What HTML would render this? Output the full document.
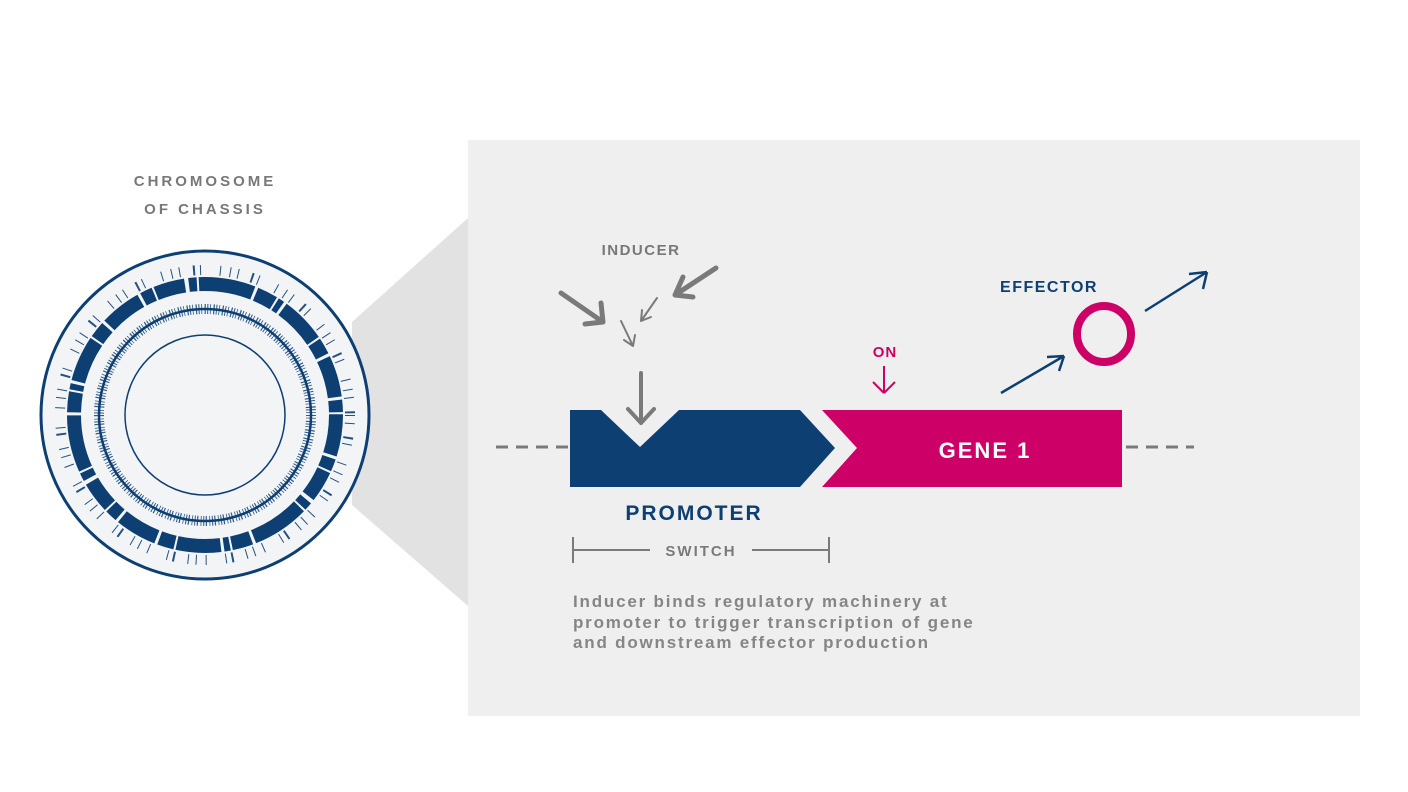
<!DOCTYPE html>
<html><head><meta charset="utf-8"><style>
html,body{margin:0;padding:0;background:#fff;}
body{width:1408px;height:792px;overflow:hidden;position:relative;font-family:"Liberation Sans",sans-serif;}
</style></head><body>
<svg width="1408" height="792" viewBox="0 0 1408 792" xmlns="http://www.w3.org/2000/svg" style="position:absolute;left:0;top:0">
<rect x="468" y="140" width="892" height="576" fill="#efefef"/>
<polygon points="352,322 468,218 468,606 352,505" fill="#e2e2e2"/>
<!-- chromosome -->
<circle cx="205" cy="415" r="164" fill="#f3f4f6" stroke="#0d3f73" stroke-width="3"/>
<circle cx="205" cy="415" r="131" fill="none" stroke="#0d3f73" stroke-width="14" stroke-dasharray="40 3 12 2 30 4 8 2 55 3 20 2 6 3 44 2 16 3" />
<circle cx="205" cy="415" r="145" fill="none" stroke="#0d3f73" stroke-width="10" stroke-dasharray="1 7 1 13 2 5 1 19 1 9" opacity="0.9"/>
<circle cx="205" cy="415" r="106" fill="none" stroke="#0d3f73" stroke-width="2.5"/>
<circle cx="205" cy="415" r="106" fill="none" stroke="#0d3f73" stroke-width="10" stroke-dasharray="1 1.8 0.8 2.5 1.2 1.5" opacity="0.85"/>
<circle cx="205" cy="415" r="80" fill="#f3f4f6" stroke="#0d3f73" stroke-width="1.5"/>
<text x="205" y="186" text-anchor="middle" font-size="15" font-weight="bold" fill="#787878" letter-spacing="3">CHROMOSOME</text>
<text x="205" y="214" text-anchor="middle" font-size="15" font-weight="bold" fill="#787878" letter-spacing="3">OF CHASSIS</text>
<!-- dashes -->
<line x1="496" y1="447" x2="570" y2="447" stroke="#7a7a7a" stroke-width="3" stroke-dasharray="12 8"/>
<line x1="1126" y1="447" x2="1194" y2="447" stroke="#7a7a7a" stroke-width="3" stroke-dasharray="12 8"/>
<!-- promoter -->
<polygon points="570,410 601,410 640,447 679,410 800,410 835,448 800,487 570,487" fill="#0d3f73"/>
<polygon points="822,410 1122,410 1122,487 822,487 857,448" fill="#cc0066"/>
<text x="985" y="458" text-anchor="middle" font-size="22" font-weight="bold" fill="#fff" letter-spacing="2">GENE 1</text>
<text x="694" y="520" text-anchor="middle" font-size="21" font-weight="bold" fill="#0d3f73" letter-spacing="2">PROMOTER</text>
<!-- switch bracket -->
<line x1="573" y1="537" x2="573" y2="563" stroke="#7a7a7a" stroke-width="2"/>
<line x1="829" y1="537" x2="829" y2="563" stroke="#7a7a7a" stroke-width="2"/>
<line x1="573" y1="550" x2="650" y2="550" stroke="#7a7a7a" stroke-width="2"/>
<line x1="752" y1="550" x2="829" y2="550" stroke="#7a7a7a" stroke-width="2"/>
<text x="701" y="556" text-anchor="middle" font-size="15" font-weight="bold" fill="#7a7a7a" letter-spacing="2">SWITCH</text>
<g font-size="17" font-weight="bold" fill="#858585" letter-spacing="1.8">
<text x="573" y="607">Inducer binds regulatory machinery at</text>
<text x="573" y="628">promoter to trigger transcription of gene</text>
<text x="573" y="648">and downstream effector production</text>
</g>
<!-- inducer -->
<text x="641" y="255" text-anchor="middle" font-size="15" font-weight="bold" fill="#787878" letter-spacing="1.5">INDUCER</text>
<g stroke="#7a7a7a" fill="none" stroke-linecap="round">
<path d="M561,293 L603,322 M603,322 L601,303 M603,322 L585,324" stroke-width="5"/>
<path d="M716,268 L675,295 M675,295 L683,277 M675,295 L693,297" stroke-width="5"/>
<path d="M657,298 L641,321 M641,321 L642,310 M641,321 L651,317" stroke-width="2"/>
<path d="M621,321 L633,346 M633,346 L624,340 M633,346 L635,335" stroke-width="2"/>
<path d="M641,373 L641,423 M641,423 L628,409 M641,423 L654,409" stroke-width="4"/>
</g>
<!-- ON -->
<text x="885" y="357" text-anchor="middle" font-size="15" font-weight="bold" fill="#cc0066" letter-spacing="1">ON</text>
<path d="M884,366 L884,393 M884,393 L873,382 M884,393 L895,382" stroke="#cc0066" stroke-width="2" fill="none"/>
<!-- effector -->
<text x="1049" y="292" text-anchor="middle" font-size="16" font-weight="bold" fill="#0d3f73" letter-spacing="1.5">EFFECTOR</text>
<ellipse cx="1104" cy="334" rx="27" ry="28" fill="none" stroke="#cc0066" stroke-width="8"/>
<g stroke="#0d3f73" stroke-width="2.5" fill="none">
<path d="M1001,393 L1064,356 M1064,356 L1047,357 M1064,356 L1059,371"/>
<path d="M1145,311 L1207,272 M1207,272 L1189,274 M1207,272 L1203,289"/>
</g>
</svg>
</body></html>
